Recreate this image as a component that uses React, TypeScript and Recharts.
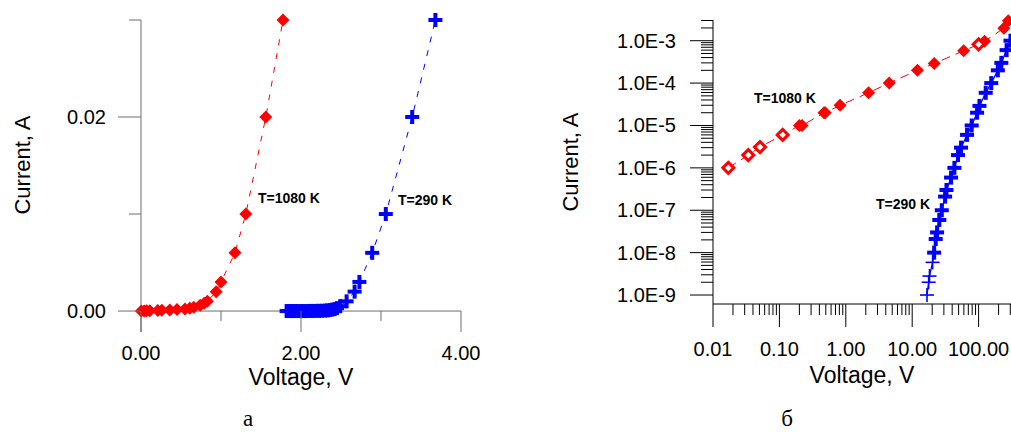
import { ReferenceLine, Scatter, ScatterChart, XAxis, YAxis } from 'recharts';

// panel a — linear scale
const hotLinV = [0.005, 0.04, 0.07, 0.11, 0.21, 0.26, 0.36, 0.45, 0.55, 0.61, 0.66, 0.74, 0.79, 0.83, 0.94, 1.0, 1.175, 1.31, 1.56, 1.775];
const hotLinI = [0, 0.00001, 0.00002, 0.00003, 0.00005, 0.00007, 0.0001, 0.00015, 0.0002, 0.0003, 0.0004, 0.0006, 0.0008, 0.001, 0.002, 0.003, 0.006, 0.01, 0.02, 0.03];
const coldLinV = [1.82, 1.85, 1.88, 1.9, 1.93, 1.96, 2.0, 2.03, 2.06, 2.1, 2.13, 2.16, 2.2, 2.23, 2.26, 2.3, 2.33, 2.36, 2.39, 2.42, 2.45, 2.49, 2.57, 2.67, 2.73, 2.89, 3.06, 3.39, 3.68];
const coldLinI = [0, 0, 0, 0, 0, 0, 0, 0, 0, 0.00001, 0.00001, 0.00001, 0.00002, 0.00002, 0.00003, 0.00005, 0.00007, 0.0001, 0.00015, 0.0002, 0.0003, 0.0005, 0.001, 0.002, 0.003, 0.006, 0.01, 0.02, 0.03];

// panel б — log-log scale
const hotLogOpenV = [0.017, 0.034, 0.051, 0.112, 100];
const hotLogOpenI = [1e-6, 2e-6, 3.1e-6, 6e-6, 8.2e-4];
const hotLogV = [0.2, 0.22, 0.47, 0.49, 0.82, 2.2, 4.5, 12, 21.5, 59.6, 123, 240, 280];
const hotLogI = [1e-5, 1e-5, 2e-5, 2e-5, 3e-5, 5.9e-5, 1e-4, 2e-4, 2.9e-4, 5.8e-4, 9.7e-4, 1.96e-3, 2.95e-3];
const coldLogThinV = [16.7, 17.7, 18.2, 20.3];
const coldLogThinI = [1e-9, 2e-9, 2.8e-9, 5.9e-9];
const coldLogV = [21.4, 22.6, 23.7, 25.6, 27.9, 31.3, 32.8, 38.5, 43.2, 49, 54.4, 67, 78.7, 94.9, 103, 128, 155, 195, 220, 264, 302];
const coldLogI = [1e-8, 2.1e-8, 3e-8, 5.9e-8, 1e-7, 2.1e-7, 3e-7, 5.9e-7, 1e-6, 2e-6, 3e-6, 6e-6, 1e-5, 2e-5, 2.9e-5, 5.9e-5, 1e-4, 2e-4, 3e-4, 6e-4, 1e-3];

const linXTicks = [0, 1, 2, 3, 4];
const linXLabels = ['0.00', '', '2.00', '', '4.00'];
const linYTicks = [0, 0.01, 0.02, 0.03];
const linYLabels = ['0.00', '', '0.02', ''];
const logXDecades = [0.01, 0.1, 1, 10, 100];
const logXLabels = ['0.01', '0.10', '1.00', '10.00', '100.00'];
const logYDecades = [1e-9, 1e-8, 1e-7, 1e-6, 1e-5, 1e-4, 1e-3];
const logYLabels = ['1.0E-9', '1.0E-8', '1.0E-7', '1.0E-6', '1.0E-5', '1.0E-4', '1.0E-3'];
const minorSteps = [2, 3, 4, 5, 6, 7, 8, 9];

const RED = '#ff0000';
const BLUE = '#0000ff';
const GRAY = '#6e6e6e';
const SANS = '"Liberation Sans", Arial, sans-serif';
const SERIF = '"Liberation Serif", "Times New Roman", serif';

const zip = (v: number[], i: number[]) => v.map((x, k) => ({ v: x, i: i[k] }));
const withMinors = (decades: number[], top: number) =>
  decades
    .flatMap((d) => [d, ...minorSteps.map((m) => m * d)])
    .filter((t) => t <= top)
    .sort((a, b) => a - b);

const hotLin = zip(hotLinV, hotLinI);
const coldLin = zip(coldLinV, coldLinI);
const hotLogOpen = zip(hotLogOpenV, hotLogOpenI);
const hotLogFilled = zip(hotLogV, hotLogI);
const hotLogAll = [...hotLogOpen, ...hotLogFilled].sort((a, b) => a.v - b.v);
const coldLogThin = zip(coldLogThinV, coldLogThinI);
const coldLogThick = zip(coldLogV, coldLogI);
const coldLogAll = [...coldLogThin, ...coldLogThick].sort((a, b) => a.v - b.v);

const logXTicks = withMinors(logXDecades, 1000);
const logYTicks = withMinors(logYDecades, 3.1e-3);

const isDecade = (v: number) => Math.abs(Math.log10(v) - Math.round(Math.log10(v))) < 1e-6;
const decadeLabel = (v: number, decades: number[], labels: string[]) => {
  const k = decades.findIndex((d) => Math.abs(Math.log10(d) - Math.log10(v)) < 1e-6);
  return k >= 0 ? labels[k] : '';
};

function Diamond({ cx, cy, open }: { cx: number; cy: number; open?: boolean }) {
  const r = open ? 5.5 : 6.5;
  const d = `M${cx},${cy - r}L${cx + r},${cy}L${cx},${cy + r}L${cx - r},${cy}Z`;
  return open ? (
    <path d={d} fill="#fff" stroke={RED} strokeWidth={3} />
  ) : (
    <path d={d} fill={RED} stroke="none" />
  );
}

function Cross({ cx, cy, thin }: { cx: number; cy: number; thin?: boolean }) {
  const r = 7;
  return (
    <g stroke={BLUE} strokeWidth={thin ? 1.6 : 4}>
      <line x1={cx - r} x2={cx + r} y1={cy} y2={cy} />
      <line x1={cx} x2={cx} y1={cy - r} y2={cy + r} />
    </g>
  );
}

const tickText = { fontFamily: SANS, fontSize: 20, fill: '#000' };

function LinXTick(p: any) {
  const k = linXTicks.indexOf(p.payload.value);
  const label = linXLabels[k];
  return (
    <g>
      <line x1={p.x} x2={p.x} y1={p.y - 21} y2={label ? p.y : p.y - 11} stroke={GRAY} />
      {label && (
        <text x={p.x} y={p.y + 28} textAnchor="middle" {...tickText}>
          {label}
        </text>
      )}
    </g>
  );
}

function LinYTick(p: any) {
  const k = linYTicks.indexOf(p.payload.value);
  const label = linYLabels[k];
  return (
    <g>
      <line x1={label ? p.x - 23 : p.x - 12} x2={p.x} y1={p.y} y2={p.y} stroke={GRAY} />
      {label && (
        <text x={p.x - 35} y={p.y + 7} textAnchor="end" {...tickText}>
          {label}
        </text>
      )}
    </g>
  );
}

function LogXTick(p: any) {
  const major = isDecade(p.payload.value);
  return (
    <g>
      <line x1={p.x} x2={p.x} y1={p.y} y2={p.y + (major ? 23 : 11)} stroke="#000" />
      {major && (
        <text x={p.x} y={p.y + 52} textAnchor="middle" {...tickText}>
          {decadeLabel(p.payload.value, logXDecades, logXLabels)}
        </text>
      )}
    </g>
  );
}

function LogYTick(p: any) {
  const major = isDecade(p.payload.value);
  return (
    <g>
      <line x1={p.x - (major ? 23 : 12)} x2={p.x} y1={p.y} y2={p.y} stroke="#000" />
      {major && (
        <text x={p.x - 37} y={p.y + 7} textAnchor="end" {...tickText}>
          {decadeLabel(p.payload.value, logYDecades, logYLabels)}
        </text>
      )}
    </g>
  );
}

function LinearPanel() {
  return (
    <ScatterChart width={500} height={432} margin={{ top: 20, right: 39, bottom: 70, left: 0 }}>
      <XAxis
        type="number"
        dataKey="v"
        domain={[0, 4]}
        ticks={linXTicks}
        interval={0}
        height={30}
        axisLine={false}
        tickLine={false}
        tickSize={0}
        tickMargin={0}
        tick={LinXTick}
      />
      <YAxis
        type="number"
        dataKey="i"
        domain={[-0.00216, 0.03]}
        ticks={linYTicks}
        interval={0}
        width={141}
        axisLine={{ stroke: GRAY }}
        tickLine={false}
        tickSize={0}
        tickMargin={0}
        tick={LinYTick}
      />
      <ReferenceLine y={0} stroke={GRAY} />
      <Scatter
        data={hotLin}
        isAnimationActive={false}
        line={{ stroke: RED, strokeWidth: 1, strokeDasharray: '6 8' }}
        shape={(s: any) => <Diamond cx={s.cx} cy={s.cy} />}
      />
      <Scatter
        data={coldLin}
        isAnimationActive={false}
        line={{ stroke: BLUE, strokeWidth: 1, strokeDasharray: '6 8' }}
        shape={(s: any) => <Cross cx={s.cx} cy={s.cy} />}
      />
    </ScatterChart>
  );
}

function LogPanel() {
  return (
    <ScatterChart width={540} height={432} margin={{ top: 20, right: 35, bottom: 98, left: 0 }}>
      <XAxis
        type="number"
        dataKey="v"
        scale="log"
        domain={[0.01, 1000]}
        ticks={logXTicks}
        interval={0}
        height={30}
        axisLine={{ stroke: '#000' }}
        tickLine={false}
        tickSize={0}
        tickMargin={0}
        tick={LogXTick}
      />
      <YAxis
        type="number"
        dataKey="i"
        scale="log"
        domain={[6.14e-10, 3.08e-3]}
        ticks={logYTicks}
        interval={0}
        width={173}
        axisLine={{ stroke: '#000' }}
        tickLine={false}
        tickSize={0}
        tickMargin={0}
        tick={LogYTick}
      />
      <Scatter
        data={hotLogAll}
        isAnimationActive={false}
        line={{ stroke: RED, strokeWidth: 1, strokeDasharray: '9 6' }}
        shape={() => <g />}
      />
      <Scatter
        data={coldLogAll}
        isAnimationActive={false}
        line={{ stroke: BLUE, strokeWidth: 1.3 }}
        shape={() => <g />}
      />
      <Scatter
        data={hotLogFilled}
        isAnimationActive={false}
        shape={(s: any) => <Diamond cx={s.cx} cy={s.cy} />}
      />
      <Scatter
        data={hotLogOpen}
        isAnimationActive={false}
        shape={(s: any) => <Diamond cx={s.cx} cy={s.cy} open />}
      />
      <Scatter
        data={coldLogThick}
        isAnimationActive={false}
        shape={(s: any) => <Cross cx={s.cx} cy={s.cy} />}
      />
      <Scatter
        data={coldLogThin}
        isAnimationActive={false}
        shape={(s: any) => <Cross cx={s.cx} cy={s.cy} thin />}
      />
    </ScatterChart>
  );
}

export default function App() {
  const note = { fontFamily: SANS, fontSize: 14, fontWeight: 700, fill: '#000' };
  const title = { fontFamily: SANS, fill: '#000' };
  return (
    <div
      style={{
        position: 'fixed',
        left: 0,
        top: 0,
        width: 1011,
        height: 432,
        overflow: 'hidden',
        background: '#fff',
      }}
    >
      <div style={{ position: 'absolute', left: 0, top: 0 }}>
        <LinearPanel />
      </div>
      <div style={{ position: 'absolute', left: 540, top: 0 }}>
        <LogPanel />
      </div>
      <svg
        width={1011}
        height={432}
        style={{ position: 'absolute', left: 0, top: 0, pointerEvents: 'none' }}
      >
        <text transform="translate(30,165) rotate(-90)" textAnchor="middle" fontSize={22} {...title}>
          Current, A
        </text>
        <text x={301} y={385} textAnchor="middle" fontSize={23} {...title}>
          Voltage, V
        </text>
        <text transform="translate(578,162) rotate(-90)" textAnchor="middle" fontSize={22} {...title}>
          Current, A
        </text>
        <text x={862} y={383} textAnchor="middle" fontSize={23} {...title}>
          Voltage, V
        </text>
        <text x={248} y={426} textAnchor="middle" fontFamily={SERIF} fontSize={23}>
          а
        </text>
        <text x={787} y={426} textAnchor="middle" fontFamily={SERIF} fontSize={23}>
          б
        </text>
        <text x={258} y={203} {...note}>T=1080 K</text>
        <text x={398} y={205} {...note}>T=290 K</text>
        <text x={754} y={103} {...note}>T=1080 K</text>
        <text x={876} y={209} {...note}>T=290 K</text>
      </svg>
    </div>
  );
}
